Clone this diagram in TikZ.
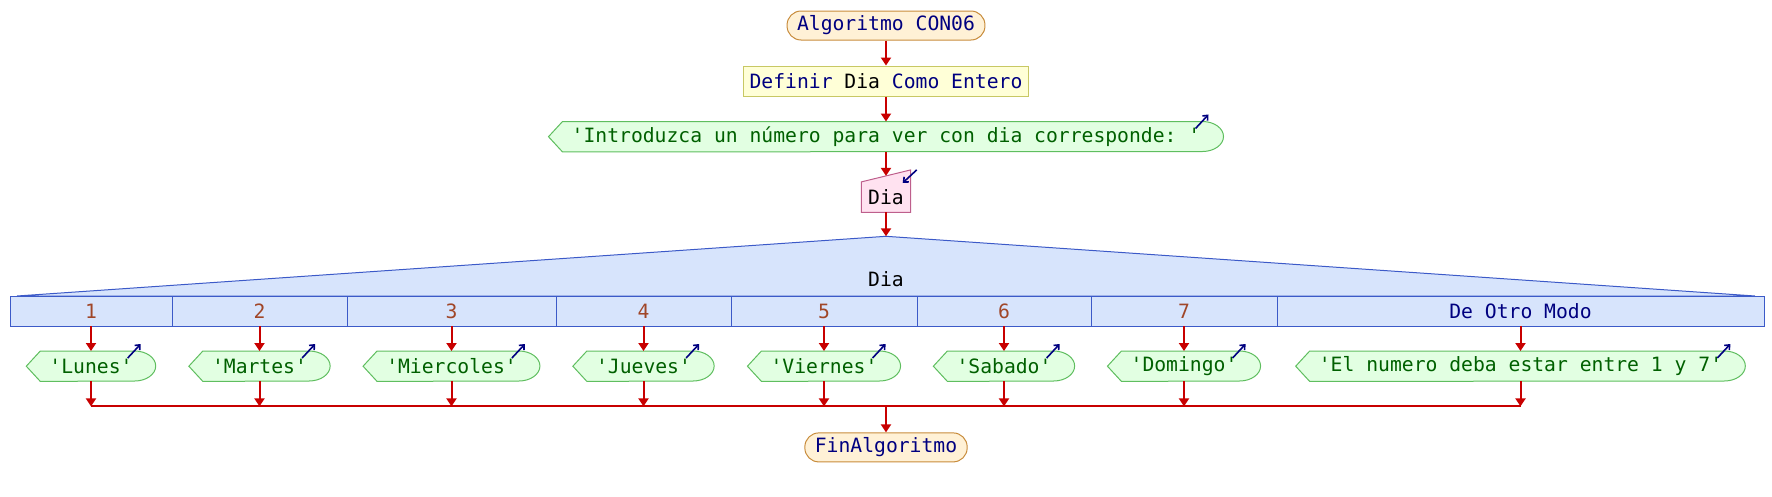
\documentclass[tikz,border=0pt]{standalone}
\usepackage{fontspec}
\setmonofont{DejaVu Sans Mono}
\usetikzlibrary{arrows.meta,backgrounds,positioning}

\definecolor{rojoflujo}{RGB}{200,0,0}
\definecolor{azulclave}{RGB}{0,0,128}
\definecolor{fondoterm}{RGB}{255,241,214}
\definecolor{bordeterm}{RGB}{200,140,60}
\definecolor{fondodef}{RGB}{255,255,215}
\definecolor{bordedef}{RGB}{200,200,100}
\definecolor{fondosal}{RGB}{226,255,226}
\definecolor{bordesal}{RGB}{95,190,95}
\definecolor{verdetexto}{RGB}{0,96,0}
\definecolor{fondoent}{RGB}{255,226,240}
\definecolor{bordeent}{RGB}{190,95,140}
\definecolor{fondosegun}{RGB}{215,228,252}
\definecolor{bordesegun}{RGB}{60,90,200}
\definecolor{marronnum}{RGB}{160,70,40}

% forma de salida alrededor de un nodo ya colocado
\newcommand{\formasalida}[1]{%
  \begin{scope}[on background layer]
    \filldraw[draw=bordesal,fill=fondosal,line width=1pt]
      (#1.west) -- ([xshift=14pt]#1.north west) -- ([xshift=-21pt]#1.north east)
      arc[start angle=90,end angle=-90,x radius=21pt,y radius=15pt]
      -- ([xshift=14pt]#1.south west) -- cycle;
  \end{scope}
  \draw[nota] ([xshift=-28pt,yshift=-7pt]#1.north east) -- ([xshift=-15pt,yshift=7pt]#1.north east);
}

\begin{document}
\begin{tikzpicture}[x=1pt,y=1pt,
  font=\ttfamily\fontsize{19.7}{24}\selectfont,
  flujo/.style={draw=rojoflujo,line width=2pt,-{Triangle[length=8pt,width=10pt]}},
  union/.style={draw=rojoflujo,line width=2pt},
  terminal/.style={draw=bordeterm,fill=fondoterm,text=azulclave,line width=1pt,rounded corners=14pt,minimum height=29pt,inner xsep=10pt,inner ysep=0pt},
  proceso/.style={draw=bordedef,fill=fondodef,line width=1pt,minimum height=30pt,inner xsep=6pt,inner ysep=0pt},
  salida/.style={text=verdetexto,minimum height=30pt,inner xsep=23pt,inner ysep=0pt},
  entrada/.style={minimum width=49pt,minimum height=30pt,inner sep=0pt},
  caso/.style={draw=bordesegun,fill=fondosegun,line width=1pt,minimum height=30pt,inner sep=0pt,outer sep=0pt,text=marronnum},
  nota/.style={draw=azulclave,line width=1.6pt,-{Straight Barb[length=4pt,width=7pt]}}]
\useasboundingbox (0,0) rectangle (1772,-496);

\node (start) [terminal] at (886,-25.5) {Algoritmo CON06};
\node (def) [proceso,below=25pt of start] {\textcolor{azulclave}{Definir} Dia \textcolor{azulclave}{Como Entero}};
\node (pedir) [salida,below=25pt of def] {'Introduzca un número para ver con dia corresponde: '};
\formasalida{pedir}
\node (dia) [entrada,below=30pt of pedir] {Dia};
\begin{scope}[on background layer]
  \filldraw[draw=bordeent,fill=fondoent,line width=1pt]
    (dia.south west) -- (dia.south east) -- ([yshift=12pt]dia.north east) -- (dia.north west) -- cycle;
\end{scope}
\draw[nota] ([xshift=6pt,yshift=12pt]dia.north east) -- ([xshift=-8pt,yshift=-1pt]dia.north east);
\coordinate (diatop) at ([yshift=6pt]dia.north);
\coordinate (apex) at ([yshift=-24pt]dia.south);

% segun
\node (c1) [caso,minimum width=162pt,anchor=west] at (10,-311) {1};
\node (c2) [caso,minimum width=175pt,right=0pt of c1] {2};
\node (c3) [caso,minimum width=209pt,right=0pt of c2] {3};
\node (c4) [caso,minimum width=175pt,right=0pt of c3] {4};
\node (c5) [caso,minimum width=186pt,right=0pt of c4] {5};
\node (c6) [caso,minimum width=174pt,right=0pt of c5] {6};
\node (c7) [caso,minimum width=186pt,right=0pt of c6] {7};
\node (c8) [caso,minimum width=487pt,right=0pt of c7,text=azulclave] {De Otro Modo};
\begin{scope}[on background layer]
  \filldraw[draw=bordesegun,fill=fondosegun,line width=1pt]
    ([xshift=7pt]c1.north west) -- (apex) -- ([xshift=-9pt]c8.north east) -- cycle;
\end{scope}
\node (selvar) at (886,-279) {Dia};

\node (o1) [salida,below=25pt of c1] {'Lunes'};
\node (o2) [salida,below=25pt of c2] {'Martes'};
\node (o3) [salida,below=25pt of c3] {'Miercoles'};
\node (o4) [salida,below=25pt of c4] {'Jueves'};
\node (o5) [salida,below=25pt of c5] {'Viernes'};
\node (o6) [salida,below=25pt of c6] {'Sabado'};
\node (o7) [salida,below=25pt of c7] {'Domingo'};
\node (o8) [salida,below=25pt of c8] {'El numero deba estar entre 1 y 7'};
\formasalida{o1}
\formasalida{o2}
\formasalida{o3}
\formasalida{o4}
\formasalida{o5}
\formasalida{o6}
\formasalida{o7}
\formasalida{o8}

\coordinate (j1) at ([yshift=-25pt]o1.south);
\coordinate (j2) at ([yshift=-25pt]o2.south);
\coordinate (j3) at ([yshift=-25pt]o3.south);
\coordinate (j4) at ([yshift=-25pt]o4.south);
\coordinate (j5) at ([yshift=-25pt]o5.south);
\coordinate (j6) at ([yshift=-25pt]o6.south);
\coordinate (j7) at ([yshift=-25pt]o7.south);
\coordinate (j8) at ([yshift=-25pt]o8.south);
\coordinate (jc) at (j1 -| apex);
\node (fin) [terminal,below=26pt of jc] {FinAlgoritmo};

\draw[flujo] (start) -- (def);
\draw[flujo] (def) -- (pedir);
\draw[flujo] (pedir) -- (diatop);
\draw[flujo] (dia) -- (apex);
\draw[flujo] (c1) -- (o1);
\draw[flujo] (c2) -- (o2);
\draw[flujo] (c3) -- (o3);
\draw[flujo] (c4) -- (o4);
\draw[flujo] (c5) -- (o5);
\draw[flujo] (c6) -- (o6);
\draw[flujo] (c7) -- (o7);
\draw[flujo] (c8) -- (o8);
\draw[union] (j1) -- (j8);
\draw[flujo] (o1) -- (j1);
\draw[flujo] (o2) -- (j2);
\draw[flujo] (o3) -- (j3);
\draw[flujo] (o4) -- (j4);
\draw[flujo] (o5) -- (j5);
\draw[flujo] (o6) -- (j6);
\draw[flujo] (o7) -- (j7);
\draw[flujo] (o8) -- (j8);
\draw[flujo] (jc) -- (fin);
\end{tikzpicture}
\end{document}
